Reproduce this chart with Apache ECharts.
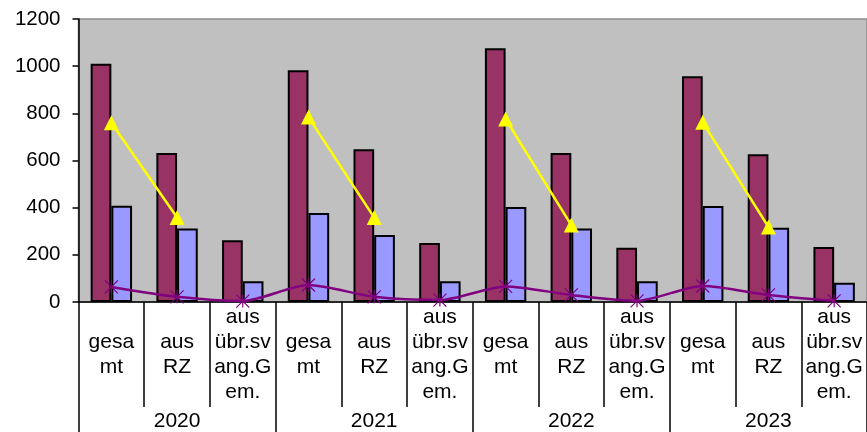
<!DOCTYPE html>
<html><head><meta charset="utf-8">
<script src="https://cdn.jsdelivr.net/npm/echarts@6/dist/echarts.min.js"></script>
<style>html,body{margin:0;padding:0;background:#fff}#c{width:867px;height:432px}</style>
</head><body><div id="c"></div>
<script>
var years = ['2020', '2021', '2022', '2023'];
var subLabels = ['gesa\nmt', 'aus\nRZ', 'aus\nübr.sv\nang.G\nem.'];
var categories = [];
years.forEach(function (y) { subLabels.forEach(function (s) { categories.push(s); }); });

var seriesMaroon = [1010, 632, 262, 983, 648, 250, 1076, 632, 230, 957, 626, 233];
var seriesBlue   = [408, 312, 88, 377, 284, 88, 403, 312, 88, 407, 315, 82];
var seriesYellow = [760, 358, null, 784, 358, null, 776, 326, null, 762, 318, null];
var seriesPurple = [64, 22, 4, 72, 22, 8, 66, 30, 5, 68, 30, 5];
var yTicks = [0, 200, 400, 600, 800, 1000, 1200];

var F = 'Liberation Sans, Arial, sans-serif';
var chart = echarts.init(document.getElementById('c'), null, {renderer: 'canvas'});
chart.setOption({
  animation: false,
  grid: {left: 78.5, top: 19, width: 794.5, bottom: 130, show: true,
         backgroundColor: '#C0C0C0', borderColor: '#8c8c8c', borderWidth: 1.5},
  xAxis: [{
    type: 'category', data: categories, position: 'bottom',
    axisLine: {show: true, lineStyle: {color: '#000', width: 1.5}},
    axisTick: {show: true, interval: 0, length: 105, lineStyle: {color: '#000', width: 1.5}},
    axisLabel: {interval: 0, margin: 53, verticalAlign: 'middle', fontFamily: F, fontSize: 21,
                lineHeight: 25, color: '#000'},
    splitLine: {show: false}
  }, {
    type: 'category', data: years, position: 'bottom', offset: 0,
    axisLine: {show: false},
    axisTick: {show: true, interval: 0, length: 140, lineStyle: {color: '#000', width: 1.5}},
    axisLabel: {interval: 0, margin: 119, verticalAlign: 'middle', fontFamily: F, fontSize: 21, color: '#000'},
    splitLine: {show: false}
  }],
  yAxis: {
    type: 'value', min: yTicks[0], max: yTicks[yTicks.length - 1], interval: 200,
    axisLine: {show: true, lineStyle: {color: '#000', width: 1.5}},
    axisTick: {show: true, length: 6, lineStyle: {color: '#000', width: 1.5}},
    axisLabel: {fontFamily: F, fontSize: 20.5, color: '#000', margin: 18,
                formatter: function (v) { return String(v); }},
    splitLine: {show: false}
  },
  series: [{
    type: 'bar', data: seriesMaroon, barGap: '0%', barCategoryGap: '37%',
    itemStyle: {color: '#993366', borderColor: '#000', borderWidth: 2}
  }, {
    type: 'bar', data: seriesBlue,
    itemStyle: {color: '#9999FF', borderColor: '#000', borderWidth: 2}
  }, {
    type: 'line', data: seriesYellow, connectNulls: false,
    symbol: 'triangle', symbolSize: 15,
    lineStyle: {color: '#FFFF00', width: 2.5},
    itemStyle: {color: '#FFFF00'}
  }, {
    type: 'line', data: seriesPurple, smooth: 0.25,
    symbol: 'path://M0,0L10,10M10,0L0,10M5,0L5,10', symbolSize: 13,
    lineStyle: {color: '#800080', width: 2.5},
    itemStyle: {color: 'none', borderColor: '#800080', borderWidth: 1.2}
  }]
});
</script></body></html>
